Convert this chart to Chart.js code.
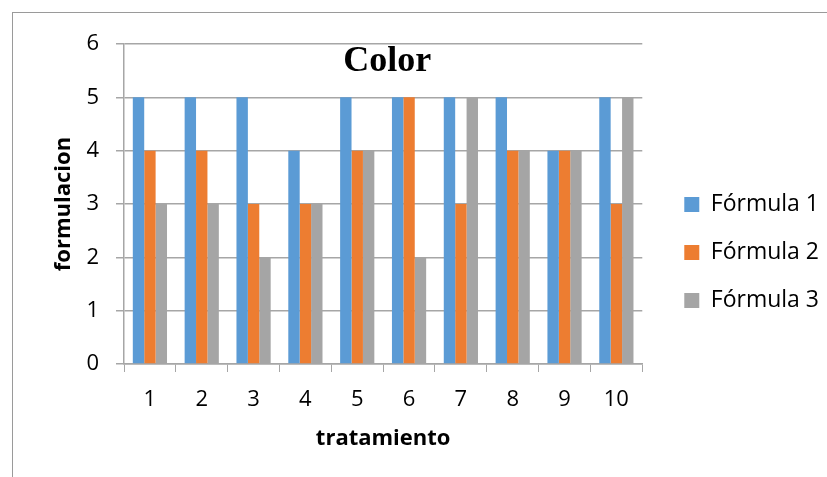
<!DOCTYPE html>
<html>
<head>
<meta charset="utf-8">
<script src="https://cdn.jsdelivr.net/npm/chart.js@4"></script>
<style>
html,body{margin:0;padding:0;background:#fff;}
#wrap{position:relative;width:827px;height:477px;overflow:hidden;}
#frame{position:absolute;left:12px;top:12px;width:900px;height:600px;border-left:1.5px solid #9a9a9a;border-top:1.5px solid #9a9a9a;}
canvas{position:absolute;left:0;top:0;}
</style>
</head>
<body>
<div id="wrap">
<div id="frame"></div>
<canvas id="c" width="827" height="477"></canvas>
</div>
<script>
const categories = ['1','2','3','4','5','6','7','8','9','10'];
const formula1 = [5,5,5,4,5,5,5,5,4,5];
const formula2 = [4,4,3,3,4,5,3,4,4,3];
const formula3 = [3,3,2,3,4,2,5,4,4,5];
const seriesNames = ['Fórmula 1','Fórmula 2','Fórmula 3'];
const seriesColors = ['#5b9bd5','#ed7d31','#a5a5a5'];
const chartTitle = 'Color';
const xTitle = 'tratamiento';
const yTitle = 'formulacion';

const titlePlugin = {
  id: 'innerTitle',
  afterLayout(chart) {
    const lg = chart.legend;
    if (lg) { lg.left += 17; lg.right += 17; lg.top += 2; lg.bottom += 2; }
  },
  afterDatasetsDraw(chart) {
    const {ctx, chartArea} = chart;
    ctx.save();
    ctx.font = 'bold 36px "Liberation Serif", "Times New Roman", serif';
    ctx.fillStyle = '#000';
    ctx.textAlign = 'center';
    ctx.textBaseline = 'middle';
    ctx.fillText(chartTitle, (chartArea.left + chartArea.right) / 2 + 4, chartArea.top + 18);
    ctx.restore();
  }
};

const font = {family: '"Open Sans", Lato, sans-serif', size: 22};
const legendFont = {family: '"Open Sans", Lato, sans-serif', size: 23};
const titleFont = {family: '"Open Sans", Lato, sans-serif', size: 22, weight: 'bold'};

new Chart(document.getElementById('c'), {
  type: 'bar',
  data: {
    labels: categories,
    datasets: [formula1, formula2, formula3].map((d, i) => ({
      label: seriesNames[i],
      data: d,
      backgroundColor: seriesColors[i],
      borderWidth: 0,
      categoryPercentage: 0.66,
      barPercentage: 1.0
    }))
  },
  options: {
    responsive: false,
    animation: false,
    layout: {padding: {left: 48, top: 44, right: 15, bottom: 20}},
    plugins: {
      title: {display: false},
      tooltip: {enabled: false},
      legend: {
        position: 'right',
        labels: {
          font: legendFont,
          color: '#000',
          boxWidth: 15,
          boxHeight: 15,
          padding: 25
        }
      }
    },
    scales: {
      x: {
        grid: {drawOnChartArea: false, drawTicks: true, tickLength: 8, color: '#a6a6a6', offset: true},
        border: {color: '#a6a6a6', width: 1.5},
        ticks: {font: font, color: '#000', padding: 15, maxRotation: 0},
        title: {display: true, text: xTitle, font: titleFont, color: '#000', padding: {top: 4, bottom: 5}},
        afterFit(scale) { scale.height = 477 - 20 - 364; }
      },
      y: {
        min: 0, max: 6,
        grid: {color: '#a6a6a6', lineWidth: 1.5, tickLength: 8},
        border: {color: '#a6a6a6', width: 1.5},
        ticks: {font: font, color: '#000', padding: 17, stepSize: 1},
        title: {display: true, text: yTitle, font: titleFont, color: '#000', padding: {top: 3, bottom: 0}},
        afterFit(scale) { scale.width = 124 - 48; }
      }
    }
  },
  plugins: [titlePlugin]
});
</script>
</body>
</html>
